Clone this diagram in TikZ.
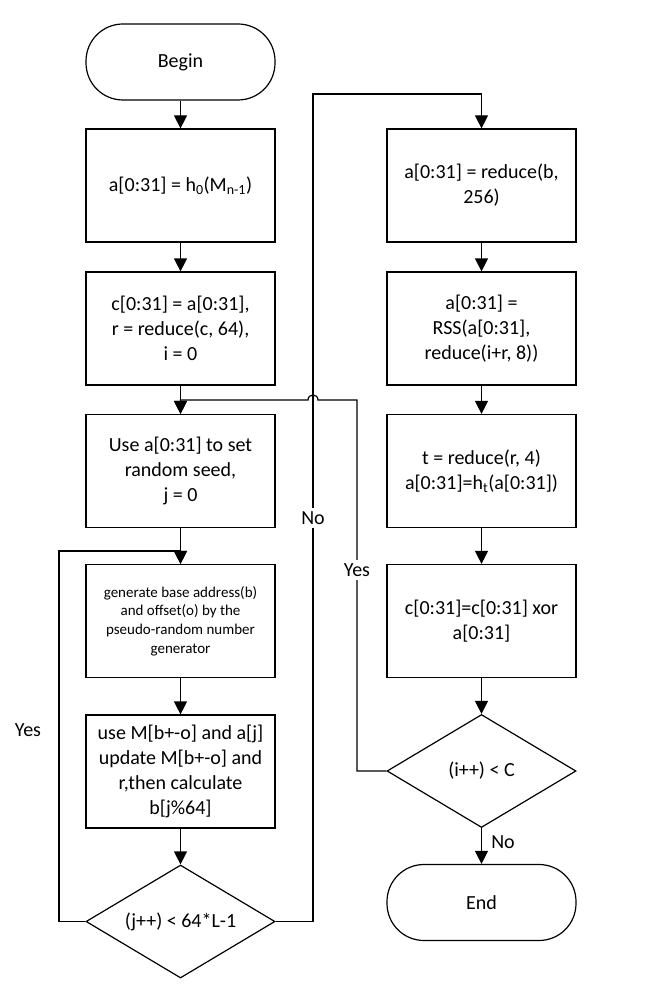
\documentclass[tikz,border=0pt]{standalone}
\usepackage{fontspec}
\setmainfont{Carlito}
\usetikzlibrary{shapes.geometric,arrows.meta}

\begin{document}
\begin{tikzpicture}[x=1pt,y=-1pt,
  every node/.style={font=\fontsize{20}{25}\selectfont},
  proc/.style={draw,line width=1.2pt,minimum width=189pt,minimum height=113pt,align=center,inner sep=2pt},
  term/.style={draw,line width=1.2pt,rounded corners=37pt,minimum width=189pt,minimum height=76pt},
  cond/.style={draw,line width=1.2pt,diamond,aspect=1.66,inner sep=0pt,minimum width=189pt,minimum height=113pt},
  flow/.style={line width=1.2pt,-{Triangle[length=13pt,width=13pt]}},
  lbl/.style={fill=white,inner sep=3.5pt}]

% Fix the page size
\useasboundingbox (0,0) rectangle (647,992);

% Left column
\node[term] (begin) at (180.5,62) {Begin};
\node[proc] (init) at (180.5,185.5) {a[0:31] = h\textsubscript{0}(M\textsubscript{n-1})};
\node[proc] (setc) at (180.5,328.5) {c[0:31] = a[0:31],\\ r = reduce(c, 64),\\ i = 0};
\node[proc] (seed) at (180.5,471) {Use a[0:31] to set\\ random seed,\\ j = 0};
\node[proc,font=\fontsize{15}{18.7}\selectfont] (prng) at (180.5,621) {generate base address(b)\\ and offset(o) by the\\ pseudo-random number\\ generator};
\node[proc] (upd) at (180.5,771.5) {use M[b+-o] and a[j]\\ update M[b+-o] and\\ r,then calculate\\ b[j\%64]};
\node[cond] (jcond) at (180.5,921.5) {(j++) < 64*L-1};

% Right column
\node[proc] (red) at (481.5,185.5) {a[0:31] = reduce(b,\\ 256)};
\node[proc] (rss) at (481.5,328.5) {a[0:31] =\\ RSS(a[0:31],\\ reduce(i+r, 8))};
\node[proc] (ht) at (481.5,471) {t = reduce(r, 4)\\ a[0:31]=h\textsubscript{t}(a[0:31])};
\node[proc] (xor) at (481.5,621) {c[0:31]=c[0:31] xor\\ a[0:31]};
\node[cond] (icond) at (481.5,771) {(i++) < C};
\node[term] (end) at (481.5,902.5) {End};

% Corners of the loops
\coordinate (jback) at (59,551);
\coordinate (nocorner) at (313,94);
\coordinate (iback) at (357,400);

% Straight arrows
\draw[flow] (begin) -- (init);
\draw[flow] (init) -- (setc);
\draw[flow] (setc) -- (seed);
\draw[flow] (seed) -- (prng);
\draw[flow] (prng) -- (upd);
\draw[flow] (upd) -- (jcond);
\draw[flow] (red) -- (rss);
\draw[flow] (rss) -- (ht);
\draw[flow] (ht) -- (xor);
\draw[flow] (xor) -- (icond);
\draw[flow] (icond) -- (end);

% Loops
\draw[flow] (jcond.west) -| (jback) -| (prng.north);
\draw[flow] (jcond.east) -| (nocorner) -| (red.north);
\draw[flow] (icond.west) -| (iback) -- ++(-39,0) .. controls +(0,-6.7) and +(0,-6.7) .. ++(-10,0) -| (seed.north);

% Labels
\node[lbl] (nolbl) at (313,518) {No};
\node[lbl] (yeslbl) at (357,570) {Yes};
\node (jyes) at (28,730) {Yes};
\node (ino) at (503,842) {No};

\end{tikzpicture}
\end{document}
